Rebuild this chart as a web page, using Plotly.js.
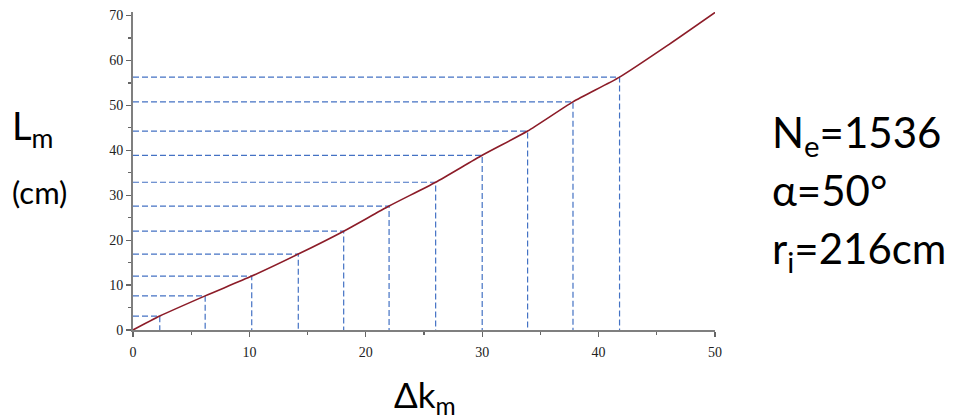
<!DOCTYPE html>
<html>
<head>
<meta charset="utf-8">
<script src="https://cdn.plot.ly/plotly-3.0.1.min.js"></script>
<style>
  html, body { margin: 0; padding: 0; background: #fff; }
  #chart { width: 953px; height: 419px; }
</style>
</head>
<body>
<div id="chart"></div>
<script>
// Marked points (Δk_m, L_m) with dashed guides
var markK = [2.3, 6.2, 10.2, 14.2, 18.1, 22.0, 26.0, 30.0, 33.9, 37.8, 41.8];
var markL = [3.1, 7.6, 12.0, 16.9, 22.0, 27.6, 32.9, 38.9, 44.3, 50.8, 56.3];

// Curve L_m(Δk_m)
var curveK = [0, 2.3, 6.2, 10.2, 14.2, 18.1, 22.0, 26.0, 30.0, 33.9, 37.8, 41.8, 46.0, 50.0];
var curveL = [0, 3.1, 7.6, 12.0, 16.9, 22.0, 27.6, 32.9, 38.9, 44.3, 50.8, 56.3, 63.5, 70.7];

var xTicks = [0, 10, 20, 30, 40, 50];
var yTicks = [0, 10, 20, 30, 40, 50, 60, 70];

// Build dashed guide segments from the marked points
var gx = [], gy = [];
for (var i = 0; i < markK.length; i++) {
  gx.push(0, markK[i], markK[i], null);
  gy.push(markL[i], markL[i], 0, null);
}

var traces = [
  {
    x: gx, y: gy, mode: 'lines', type: 'scatter', hoverinfo: 'skip',
    line: { color: 'rgb(68,114,196)', width: 1.2, dash: '6px,3px' },
    showlegend: false
  },
  {
    x: curveK, y: curveL, mode: 'lines', type: 'scatter',
    line: { color: 'rgb(140,28,40)', width: 1.6, shape: 'spline', smoothing: 0.6 },
    showlegend: false
  }
];

var PL = 133, PR = 715, PT = 12, PB = 330;
var YMAX = 70.8;
function px(x) { return (x - PL) / (PR - PL); }
function py(y) { return (PB - y) / (PB - PT); }

var axisCommon = {
  showgrid: false, zeroline: false, showline: true,
  linecolor: '#7f7f7f', linewidth: 2,
  ticks: 'outside', ticklen: 5, tickwidth: 1.2, tickcolor: '#666',
  tickfont: { family: 'Liberation Serif', size: 14, color: '#222' },
  tickmode: 'array',
  minor: { dtick: 5, ticks: 'outside', ticklen: 3, tickcolor: '#666', tickwidth: 1.2 }
};

var bigFont = { family: 'Lato', color: '#000' };

var layout = {
  width: 953, height: 419,
  margin: { l: PL, r: 953 - PR, t: PT, b: 419 - PB },
  paper_bgcolor: '#fff', plot_bgcolor: '#fff',
  showlegend: false,
  xaxis: Object.assign({}, axisCommon, { range: [0, 50], tickvals: xTicks, ticktext: xTicks.map(String), ticklabelstandoff: 3 }),
  yaxis: Object.assign({}, axisCommon, { range: [0, YMAX], tickvals: yTicks, ticktext: yTicks.map(String) }),
  annotations: [
    { text: 'L<sub>m</sub>', xref: 'paper', yref: 'paper', x: px(10), y: py(128),
      xanchor: 'left', yanchor: 'middle', showarrow: false,
      font: Object.assign({}, bigFont, { size: 38 }) },
    { text: '(cm)', xref: 'paper', yref: 'paper', x: px(10), y: py(192),
      xanchor: 'left', yanchor: 'middle', showarrow: false,
      font: Object.assign({}, bigFont, { size: 31 }) },
    { text: 'N<sub>e</sub>=1536', xref: 'paper', yref: 'paper', x: px(770), y: py(135),
      xanchor: 'left', yanchor: 'middle', showarrow: false,
      font: Object.assign({}, bigFont, { size: 42 }) },
    { text: 'α=50°', xref: 'paper', yref: 'paper', x: px(770), y: py(190),
      xanchor: 'left', yanchor: 'middle', showarrow: false,
      font: Object.assign({}, bigFont, { size: 42 }) },
    { text: 'r<sub>i</sub>=216cm', xref: 'paper', yref: 'paper', x: px(770), y: py(251),
      xanchor: 'left', yanchor: 'middle', showarrow: false,
      font: Object.assign({}, bigFont, { size: 42 }) },
    { text: 'Δk<sub>m</sub>', xref: 'paper', yref: 'paper', x: px(392), y: py(396),
      xanchor: 'left', yanchor: 'middle', showarrow: false,
      font: Object.assign({}, bigFont, { size: 35 }) }
  ]
};

Plotly.newPlot('chart', traces, layout, { displayModeBar: false, staticPlot: true });
</script>
</body>
</html>
